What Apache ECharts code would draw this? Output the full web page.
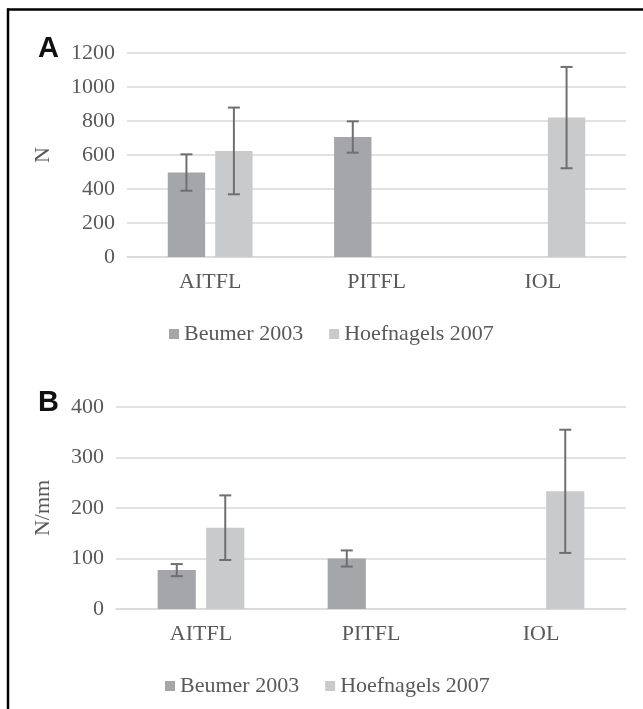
<!DOCTYPE html>
<html>
<head>
<meta charset="utf-8">
<script src="https://cdn.jsdelivr.net/npm/echarts@6/dist/echarts.min.js"></script>
<style>
  html, body { margin: 0; padding: 0; background: #fff; }
  #chart { width: 643px; height: 709px; }
</style>
</head>
<body>
<div id="chart"></div>
<script>
// ---- data ----
const categories = ['AITFL', 'PITFL', 'IOL'];
const seriesNames = ['Beumer 2003', 'Hoefnagels 2007'];

// Panel A: failure force (N)
const forceBeumer = [497, 706, null];
const forceBeumerSD = [107, 92, null];
const forceHoef = [624, null, 820];
const forceHoefSD = [255, null, 298];

// Panel B: stiffness (N/mm)
const stiffBeumer = [77, 100, null];
const stiffBeumerSD = [12, 16, null];
const stiffHoef = [161, null, 233];
const stiffHoefSD = [64, null, 122];

const axisNames = ['N', 'N/mm'];
const panelLabels = ['A', 'B'];

// ---- styles ----
const colBeumer = '#a5a6a9';
const colHoef = '#c9cacc';
const colErr = '#6f6f6f';
const colText = '#595959';
const colGrid = '#d9d9d9';
const serif = 'Liberation Serif';
const FS = 22;
const CAT_GAP = 0.49, BAR_GAP = 0.27;

function errData(vals, sds) {
  const out = [];
  vals.forEach((v, i) => { if (v != null) out.push([i, v, sds[i]]); });
  return out;
}

function errSeries(name, vals, sds, gridIdx, side) {
  return {
    type: 'custom', name: name, xAxisIndex: gridIdx, yAxisIndex: gridIdx,
    data: errData(vals, sds), encode: { x: 0, y: 1 }, z: 5, silent: true,
    renderItem: function (params, api) {
      const idx = api.value(0), m = api.value(1), sd = api.value(2);
      const band = api.size([1, 0])[0];
      const w = band * (1 - CAT_GAP) / (2 + BAR_GAP);
      const off = side * w * (1 + BAR_GAP) / 2;
      const top = api.coord([idx, m + sd]);
      const bot = api.coord([idx, m - sd]);
      const x = top[0] + off;
      const cap = 6;
      const st = { stroke: colErr, lineWidth: 2 };
      return { type: 'group', children: [
        { type: 'line', shape: { x1: x, y1: top[1], x2: x, y2: bot[1] }, style: st },
        { type: 'line', shape: { x1: x - cap, y1: top[1], x2: x + cap, y2: top[1] }, style: st },
        { type: 'line', shape: { x1: x - cap, y1: bot[1], x2: x + cap, y2: bot[1] }, style: st }
      ]};
    }
  };
}

function barSeries(name, vals, gridIdx, color) {
  return {
    type: 'bar', name: name, xAxisIndex: gridIdx, yAxisIndex: gridIdx,
    data: vals, itemStyle: { color: color },
    barCategoryGap: (CAT_GAP * 100) + '%', barGap: (BAR_GAP * 100) + '%',
    emphasis: { disabled: true }
  };
}

function xAxis(gridIdx) {
  return {
    type: 'category', gridIndex: gridIdx, data: categories,
    axisLine: { lineStyle: { color: colGrid, width: 1.5 } },
    axisTick: { show: false },
    axisLabel: { color: colText, fontFamily: serif, fontSize: FS, margin: 14 }
  };
}

function yAxis(gridIdx, max, interval, name, nameGap) {
  return {
    type: 'value', gridIndex: gridIdx, min: 0, max: max, interval: interval,
    name: name, nameLocation: 'middle', nameRotate: 90, nameGap: nameGap,
    nameTextStyle: { color: colText, fontFamily: serif, fontSize: FS },
    axisLine: { show: false }, axisTick: { show: false },
    axisLabel: { color: colText, fontFamily: serif, fontSize: FS, margin: 12,
      formatter: function (v) { return String(v); } },
    splitLine: { lineStyle: { color: colGrid, width: 1.5 } }
  };
}

function legend(top, left) {
  return {
    data: seriesNames, top: top, left: left, orient: 'horizontal',
    icon: 'rect', itemWidth: 10, itemHeight: 10, itemGap: 26,
    selectedMode: false,
    textStyle: { color: colText, fontFamily: serif, fontSize: FS }
  };
}

const option = {
  animation: false,
  backgroundColor: '#fff',
  textStyle: { fontFamily: serif },
  title: [
    { text: panelLabels[0], left: 33, top: 29,
      textStyle: { fontFamily: 'Liberation Sans', fontWeight: 'bold', fontSize: 29, color: '#111' } },
    { text: panelLabels[1], left: 33, top: 383,
      textStyle: { fontFamily: 'Liberation Sans', fontWeight: 'bold', fontSize: 29, color: '#111' } }
  ],
  grid: [
    { left: 127, right: 17, top: 53, height: 204 },
    { left: 116, right: 17, top: 407, height: 202 }
  ],
  legend: [legend(318, 164), legend(670, 160)],
  xAxis: [xAxis(0), xAxis(1)],
  yAxis: [yAxis(0, 1200, 200, axisNames[0], 73), yAxis(1, 400, 100, axisNames[1], 62)],
  series: [
    barSeries(seriesNames[0], forceBeumer, 0, colBeumer),
    barSeries(seriesNames[1], forceHoef, 0, colHoef),
    barSeries(seriesNames[0], stiffBeumer, 1, colBeumer),
    barSeries(seriesNames[1], stiffHoef, 1, colHoef),
    errSeries('errA0', forceBeumer, forceBeumerSD, 0, -1),
    errSeries('errA1', forceHoef, forceHoefSD, 0, 1),
    errSeries('errB0', stiffBeumer, stiffBeumerSD, 1, -1),
    errSeries('errB1', stiffHoef, stiffHoefSD, 1, 1)
  ],
  graphic: [
    { type: 'line', shape: { x1: 7, y1: 9.5, x2: 643, y2: 9.5 }, style: { stroke: '#000', lineWidth: 2.5 } },
    { type: 'line', shape: { x1: 8, y1: 8.5, x2: 8, y2: 709 }, style: { stroke: '#000', lineWidth: 2.5 } }
  ]
};

const chart = echarts.init(document.getElementById('chart'), null, { renderer: 'canvas' });
chart.setOption(option);
</script>
</body>
</html>
